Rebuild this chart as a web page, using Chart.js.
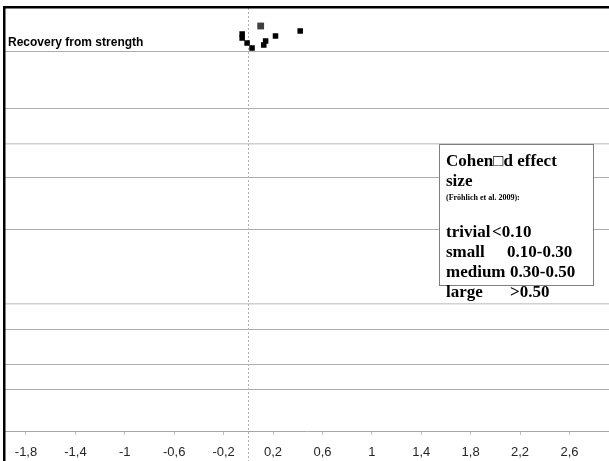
<!DOCTYPE html>
<html>
<head>
<meta charset="utf-8">
<script src="https://cdn.jsdelivr.net/npm/chart.js@4.4.0/dist/chart.umd.min.js"></script>
<style>
  html, body { margin: 0; padding: 0; background: #fff; }
</style>
</head>
<body>
<canvas id="chart" width="609" height="461"></canvas>
<script>
// x axis (effect size) tick labels
const xTickValues = [-1.8, -1.4, -1, -0.6, -0.2, 0.2, 0.6, 1, 1.4, 1.8, 2.2, 2.6];
// horizontal rules between rows (vertical position units)
const rowLines = [37.9, 32.3, 28.7, 25.3, 20.1, 12.7, 10.2, 6.7, 4.2];
const rowLabels = ['Recovery from strength'];
const rowLabelY = [38.8];

// single study effect sizes
const studyX = [-0.05, -0.05, -0.01, 0.03, 0.125, 0.14, 0.22, 0.42];
const studyY = [39.7, 39.3, 38.8, 38.3, 38.6, 39.0, 39.5, 40.0];
// pooled effect
const pooledX = [0.10];
const pooledY = [40.5];

const boxTitle = ['Cohen\u25A1d effect', 'size'];
const boxSource = '(Fröhlich et al. 2009):';
const boxRows = [
    ['trivial', '<0.10'],
    ['small', '0.10-0.30'],
    ['medium', '0.30-0.50'],
    ['large', '>0.50']
];

function toPoints(xs, ys) {
    return xs.map((x, i) => ({x: x, y: ys[i]}));
}

const overlay = {
    id: 'overlay',
    beforeDatasetsDraw(chart) {
        // dashed line at zero
        const {ctx, chartArea, scales} = chart;
        const px = Math.round(scales.x.getPixelForValue(0)) + 0.5;
        ctx.save();
        ctx.strokeStyle = '#b0b0b0';
        ctx.lineWidth = 1;
        ctx.setLineDash([2, 2]);
        ctx.beginPath();
        ctx.moveTo(px, chartArea.top);
        ctx.lineTo(px, chart.height);
        ctx.stroke();
        ctx.restore();
    },
    afterDraw(chart) {
        const {ctx, scales} = chart;
        ctx.save();

        // outer frame (left + top)
        ctx.strokeStyle = '#000';
        ctx.lineWidth = 2.5;
        ctx.beginPath();
        ctx.moveTo(4.25, chart.height);
        ctx.lineTo(4.25, 7.25);
        ctx.lineTo(chart.width, 7.25);
        ctx.stroke();

        // row labels
        ctx.fillStyle = '#000';
        ctx.font = 'bold 12px "Liberation Sans", Arial, sans-serif';
        ctx.textBaseline = 'middle';
        rowLabels.forEach(function(label, i) {
            ctx.fillText(label, 8, scales.y.getPixelForValue(rowLabelY[i]));
        });

        // effect size text box
        ctx.fillStyle = '#fff';
        ctx.fillRect(439, 144, 154, 141);
        ctx.strokeStyle = '#7f7f7f';
        ctx.lineWidth = 1;
        ctx.strokeRect(439.5, 144.5, 154, 141);

        ctx.fillStyle = '#000';
        ctx.textBaseline = 'alphabetic';
        ctx.font = 'bold 17px "Liberation Serif", "Times New Roman", serif';
        ctx.fillText(boxTitle[0], 446, 166);
        ctx.fillText(boxTitle[1], 446, 186);
        ctx.font = 'bold 8px "Liberation Serif", "Times New Roman", serif';
        ctx.fillText(boxSource, 446, 200);
        ctx.font = 'bold 17px "Liberation Serif", "Times New Roman", serif';
        const valueX = [492, 507, 510, 510];
        boxRows.forEach(function(row, i) {
            const y = 237 + i * 20;
            ctx.fillText(row[0], 446, y);
            ctx.fillText(row[1], valueX[i], y);
        });
        ctx.restore();
    }
};

const lightRows = [2, 5];

new Chart(document.getElementById('chart'), {
    type: 'scatter',
    data: {
        datasets: [
            {
                data: toPoints(studyX, studyY),
                pointStyle: 'rect',
                pointRadius: 3.9,
                pointBorderWidth: 0,
                backgroundColor: '#000'
            },
            {
                data: toPoints(pooledX, pooledY),
                pointStyle: 'rect',
                pointRadius: 4.8,
                pointBorderWidth: 0,
                backgroundColor: '#3f3f3f'
            }
        ]
    },
    options: {
        responsive: false,
        animation: false,
        layout: {autoPadding: false, padding: {left: 5, top: 8, right: 0, bottom: 0}},
        plugins: {
            legend: {display: false},
            tooltip: {enabled: false}
        },
        scales: {
            x: {
                type: 'linear',
                min: -1.97,
                max: 2.92,
                afterBuildTicks: function(scale) {
                    scale.ticks = xTickValues.map(v => ({value: v}));
                },
                afterFit: function(scale) {
                    scale.height = 30;
                    scale.paddingLeft = 0;
                    scale.paddingRight = 0;
                },
                border: {display: true, color: '#a6a6a6', width: 1},
                grid: {
                    drawOnChartArea: false,
                    drawTicks: true,
                    tickLength: 4,
                    color: '#c0c0c0'
                },
                ticks: {
                    padding: 10,
                    maxRotation: 0,
                    autoSkip: false,
                    color: '#262626',
                    font: {family: '"Liberation Sans", Arial, sans-serif', size: 13},
                    callback: function(value) {
                        return String(value).replace('.', ',');
                    }
                }
            },
            y: {
                type: 'linear',
                min: 0,
                max: 42.3,
                afterBuildTicks: function(scale) {
                    scale.ticks = rowLines.map(v => ({value: v}));
                },
                afterFit: function(scale) {
                    scale.width = 0;
                    scale.paddingTop = 0;
                    scale.paddingBottom = 0;
                },
                border: {display: false},
                grid: {
                    drawTicks: false,
                    color: function(ctx) {
                        return lightRows.indexOf(ctx.index) >= 0 ? '#d0d0d0' : '#acacac';
                    },
                    lineWidth: function(ctx) {
                        return lightRows.indexOf(ctx.index) >= 0 ? 1.5 : 1;
                    }
                },
                ticks: {display: false}
            }
        }
    },
    plugins: [overlay]
});
</script>
</body>
</html>
